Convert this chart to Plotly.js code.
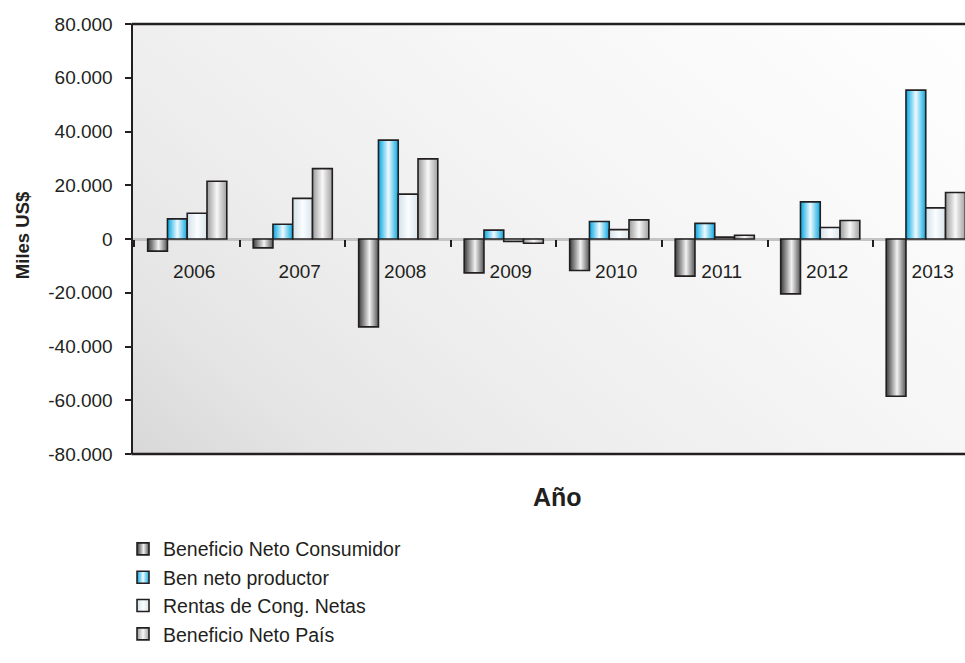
<!DOCTYPE html>
<html>
<head>
<meta charset="utf-8">
<script src="https://cdn.plot.ly/plotly-3.0.1.min.js"></script>
<style>
html,body{margin:0;padding:0;background:#ffffff;}
#chart{width:965px;height:663px;}
</style>
</head>
<body>
<div id="chart"></div>
<script>
// ---- data (Miles US$) ----
const years = ['2006','2007','2008','2009','2010','2011','2012','2013'];
const seriesNames = ['Beneficio Neto Consumidor','Ben neto productor','Rentas de Cong. Netas','Beneficio Neto País'];
const beneficioConsumidor = [-4500, -3300, -32700, -12600, -11700, -13800, -20400, -58500];
const benNetoProductor    = [ 7500,  5500,  36800,   3300,   6500,   5800,  13800,  55400];
const rentasCongNetas     = [ 9600, 15100,  16700,   -900,   3500,    700,   4300,  11600];
const beneficioNetoPais   = [21500, 26200,  29800,  -1600,   7100,   1400,   6900,  17300];
const yTickVals = [-80000,-60000,-40000,-20000,0,20000,40000,60000,80000];
const yTickText = ['-80.000','-60.000','-40.000','-20.000','0','20.000','40.000','60.000','80.000'];

// ---- styles ----
const FONT = 'Liberation Sans, Arial, Helvetica, sans-serif';
const TXT = '#231f20';
const baseColors = ['#8a8a8a','#38b8e8','#e6eff4','#cfcfcf'];
const gradStops = [
  [['0','#3a3a3a'],['0.55','#f2f2f2'],['1','#555555']],
  [['0','#00a6e2'],['0.5','#eefaff'],['1','#0aa8e0']],
  [['0','#d2e1ea'],['0.5','#fbfdfe'],['1','#d8e4ec']],
  [['0','#9a9a9a'],['0.5','#f8f8f8'],['1','#a0a0a0']]
];
const seriesValues = [beneficioConsumidor, benNetoProductor, rentasCongNetas, beneficioNetoPais];

const traces = seriesValues.map((vals, i) => ({
  type: 'bar',
  name: seriesNames[i],
  x: years,
  y: vals,
  legendgroup: 'g' + i,
  marker: {color: baseColors[i], line: {color: '#231f20', width: 1.6}},
  hoverinfo: 'x+y+name'
}));

const bgSvg = '<svg xmlns="http://www.w3.org/2000/svg" width="832" height="430" viewBox="0 0 832 430" preserveAspectRatio="none">' +
  '<defs><linearGradient id="bg" gradientUnits="userSpaceOnUse" x1="0" y1="430" x2="560" y2="-250">' +
  '<stop offset="0" stop-color="#d8d8d8"/><stop offset="0.15" stop-color="#e5e5e5"/>' +
  '<stop offset="0.35" stop-color="#eeeeee"/><stop offset="0.6" stop-color="#f6f6f6"/>' +
  '<stop offset="1" stop-color="#ffffff"/>' +
  '</linearGradient></defs><rect x="0" y="0" width="832" height="430" fill="url(#bg)"/></svg>';

const layout = {
  width: 965,
  height: 663,
  margin: {l: 133, r: 0, t: 24, b: 209, pad: 0},
  paper_bgcolor: '#ffffff',
  plot_bgcolor: 'rgba(0,0,0,0)',
  separators: ',.',
  font: {family: FONT, size: 19, color: TXT},
  barmode: 'group',
  bargap: 0.25,
  bargroupgap: 0,
  showlegend: true,
  legend: {
    x: -0.012, xanchor: 'left',
    y: -0.176, yanchor: 'top',
    orientation: 'v',
    traceorder: 'normal',
    tracegroupgap: 8,
    font: {family: FONT, size: 19.5, color: TXT},
    bgcolor: 'rgba(0,0,0,0)'
  },
  xaxis: {
    type: 'category',
    range: [-0.514, 7.372],
    anchor: 'free',
    position: 0.5,
    showline: false,
    showgrid: false,
    zeroline: false,
    ticks: 'outside',
    tickson: 'boundaries',
    ticklen: 7,
    tickwidth: 2,
    tickcolor: '#231f20',
    ticklabelshift: 7,
    ticklabelstandoff: 19,
    tickfont: {family: FONT, size: 19, color: TXT},
    fixedrange: true
  },
  yaxis: {
    range: [-80000, 80000],
    tickmode: 'array',
    tickvals: yTickVals,
    ticktext: yTickText,
    showline: true,
    linecolor: '#231f20',
    linewidth: 2.5,
    showgrid: false,
    zeroline: true,
    zerolinecolor: '#c4c4c4',
    zerolinewidth: 3,
    ticks: 'outside',
    ticklen: 6,
    tickwidth: 2,
    tickcolor: '#231f20',
    ticklabelstandoff: 8,
    tickfont: {family: FONT, size: 19, color: TXT},
    fixedrange: true
  },
  images: [{
    source: 'data:image/svg+xml;charset=utf-8,' + encodeURIComponent(bgSvg),
    xref: 'paper', yref: 'paper', x: 0, y: 1, sizex: 1, sizey: 1,
    sizing: 'stretch', xanchor: 'left', yanchor: 'top', layer: 'below'
  }],
  shapes: [
    {type: 'line', xref: 'paper', yref: 'paper', x0: -0.002, x1: 1, y0: 1, y1: 1, line: {color: '#231f20', width: 2.5}},
    {type: 'line', xref: 'paper', yref: 'paper', x0: -0.002, x1: 1, y0: 0, y1: 0, line: {color: '#231f20', width: 2.5}}
  ],
  annotations: [
    {text: '<b>Año</b>', xref: 'paper', yref: 'paper', x: 0.51, y: -0.1, xanchor: 'center', yanchor: 'middle',
     showarrow: false, font: {family: FONT, size: 25, color: TXT}},
    {text: '<b>Miles US$</b>', xref: 'paper', yref: 'paper', x: -0.1334, y: 0.509, xanchor: 'center', yanchor: 'middle',
     textangle: -90, showarrow: false, font: {family: FONT, size: 18.5, color: TXT}}
  ]
};

Plotly.newPlot('chart', traces, layout, {displayModeBar: false, staticPlot: true}).then(gd => {
  // horizontal (cylinder-like) gradients on bars and legend symbols
  const svg = gd.querySelector('svg.main-svg');
  let defs = svg.querySelector('defs');
  if (!defs) { defs = document.createElementNS('http://www.w3.org/2000/svg','defs'); svg.insertBefore(defs, svg.firstChild); }
  gradStops.forEach((stops, i) => {
    const lg = document.createElementNS('http://www.w3.org/2000/svg','linearGradient');
    lg.setAttribute('id','barGrad' + i);
    lg.setAttribute('x1','0'); lg.setAttribute('y1','0'); lg.setAttribute('x2','1'); lg.setAttribute('y2','0');
    stops.forEach(s => {
      const st = document.createElementNS('http://www.w3.org/2000/svg','stop');
      st.setAttribute('offset', s[0]); st.setAttribute('stop-color', s[1]);
      lg.appendChild(st);
    });
    defs.appendChild(lg);
  });
  gd.querySelectorAll('.barlayer .trace').forEach((tr, i) => {
    tr.querySelectorAll('path').forEach(p => { p.style.fill = 'url(#barGrad' + i + ')'; });
  });
  gd.querySelectorAll('.legend .traces').forEach((tr, i) => {
    tr.querySelectorAll('.legendpoints path').forEach(p => { p.style.fill = 'url(#barGrad' + i + ')'; });
  });
});
</script>
</body>
</html>
